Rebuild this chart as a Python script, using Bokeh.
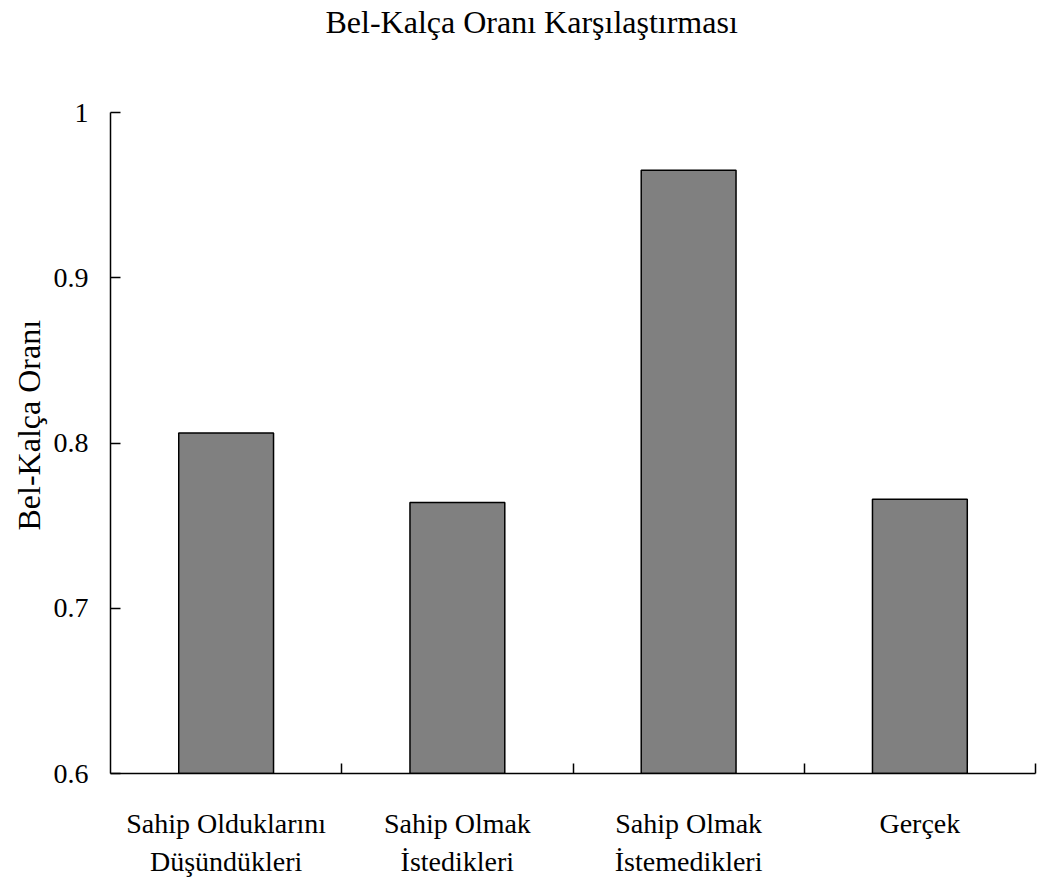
from bokeh.plotting import figure
from bokeh.models import FixedTicker, Range1d, LinearAxis, Title
from bokeh.embed import file_html
from bokeh.resources import INLINE

chart_title = "Bel-Kalça Oranı Karşılaştırması"
y_axis_title = "Bel-Kalça Oranı"
categories_line1 = ["Sahip Olduklarını", "Sahip Olmak", "Sahip Olmak", "Gerçek"]
categories_line2 = ["Düşündükleri", "İstedikleri", "İstemedikleri", " "]
values = [0.806, 0.764, 0.965, 0.766]
y_ticks = [0.6, 0.7, 0.8, 0.9, 1.0]
y_labels = ["0.6", "0.7", "0.8", "0.9", "1"]

FONT = "Liberation Serif"

n = len(values)
xs = [i + 0.5 for i in range(n)]
boundaries = [i + 1 for i in range(n)]

p = figure(width=1040, height=885, output_backend="svg", toolbar_location=None,
           x_range=Range1d(0, n), y_range=Range1d(0.6, 1.0),
           min_border_left=110, min_border_right=5, min_border_top=112,
           min_border_bottom=112)

# spacer between frame and the chart title (closest to the frame)
spacer = Title(text=" ", text_font=FONT, text_font_size="10px", standoff=60)
p.add_layout(spacer, "above")
main_title = Title(text=chart_title, text_font=FONT, text_font_size="32px",
                   text_font_style="normal", text_color="black",
                   align="left", offset=215, standoff=0)
p.add_layout(main_title, "above")

p.vbar(x=xs, top=values, bottom=0.6, width=0.41, fill_color="#808080",
       line_color="black", line_width=1.5)

p.outline_line_color = None
p.xgrid.grid_line_color = None
p.ygrid.grid_line_color = None

# x axis (first label line + boundary ticks)
xa = p.xaxis[0]
xa.ticker = FixedTicker(ticks=xs, minor_ticks=boundaries)
xa.major_label_overrides = {x: c for x, c in zip(xs, categories_line1)}
xa.major_tick_line_color = None
xa.major_tick_in = 0
xa.major_tick_out = 0
xa.minor_tick_in = 10
xa.minor_tick_out = 0
xa.minor_tick_line_color = "black"
xa.minor_tick_line_width = 1.5
xa.axis_line_color = "black"
xa.axis_line_width = 1.5
xa.major_label_text_font = FONT
xa.major_label_text_font_size = "28px"
xa.major_label_text_color = "black"
xa.major_label_standoff = 34

# second label line
xa2 = LinearAxis(ticker=FixedTicker(ticks=xs, minor_ticks=[]),
                 major_label_overrides={x: c for x, c in zip(xs, categories_line2)})
xa2.axis_line_color = None
xa2.major_tick_line_color = None
xa2.major_tick_in = 0
xa2.major_tick_out = 0
xa2.minor_tick_line_color = None
xa2.major_label_text_font = FONT
xa2.major_label_text_font_size = "28px"
xa2.major_label_text_color = "black"
xa2.major_label_standoff = 4
p.add_layout(xa2, "below")

# y axis
ya = p.yaxis[0]
ya.ticker = FixedTicker(ticks=y_ticks, minor_ticks=[])
ya.major_label_overrides = {t: l for t, l in zip(y_ticks, y_labels)}
ya.major_tick_in = 10
ya.major_tick_out = 0
ya.major_tick_line_width = 1.5
ya.axis_line_width = 1.5
ya.major_label_text_font = FONT
ya.major_label_text_font_size = "28px"
ya.major_label_text_color = "black"
ya.major_label_standoff = 22

y_title = Title(text=y_axis_title, align="left", offset=243, standoff=8,
                text_font=FONT, text_font_size="32px", text_font_style="normal",
                text_color="black")
p.add_layout(y_title, "left")

open("out.html", "w").write(file_html(p, INLINE))
